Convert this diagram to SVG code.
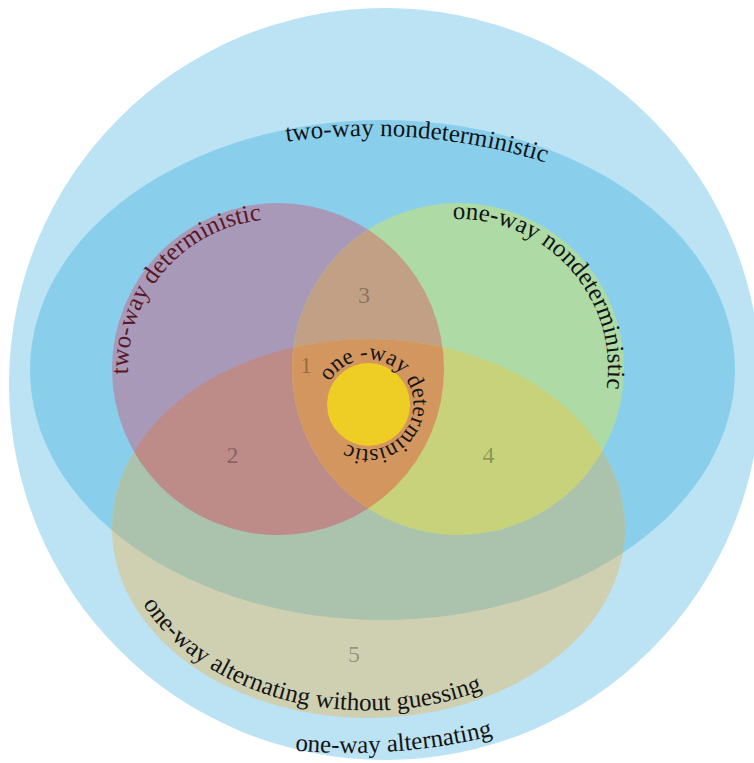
<svg xmlns="http://www.w3.org/2000/svg" xmlns:xlink="http://www.w3.org/1999/xlink" width="754" height="763" viewBox="0 0 754 763">
  <style>
    .lbl { font-family: "Liberation Serif", "DejaVu Serif", serif; font-size: 25px; fill: #141414; }
    .num { font-family: "Liberation Serif", "DejaVu Serif", serif; font-size: 24px; fill: #000; fill-opacity: 0.3; text-anchor: middle; }
  </style>
  <defs>
    <clipPath id="cB"><ellipse cx="382.5" cy="370" rx="352.5" ry="250"/></clipPath>
    <clipPath id="cP"><circle cx="278" cy="369" r="166"/></clipPath>
    <clipPath id="cG"><circle cx="458" cy="369" r="166"/></clipPath>
    <path id="pTwoND" d="M 250,148 A 380 236 0 0 1 600,184"/>
    <path id="pTwoD" d="M 128.1,374.2 A 150 150 0 0 1 291.1,219.6"/>
    <path id="pOneND" d="M 452.8,219.1 A 150 150 0 0 1 602.9,407.8"/>
    <path id="pOneD" d="M 329.5,382 A 45 45 0 1 1 339.6,439"/>
    <path id="pAltWG" d="M 143,604.2 A 248 182 0 0 0 558.5,645.5"/>
    <path id="pAlt" d="M 280,748.9 A 600 600 0 0 0 520,728.4"/>
  </defs>

  <g id="one-way-alternating">
    <circle cx="385" cy="384" r="376" fill="#bbe3f4"/>
  </g>
  <g id="two-way-nondeterministic">
    <ellipse cx="382.5" cy="370" rx="352.5" ry="250" fill="#89cfec"/>
  </g>
  <g id="one-way-alternating-without-guessing">
    <ellipse cx="368.5" cy="528.5" rx="256.5" ry="189.5" fill="#cfd0b1"/>
    <ellipse cx="368.5" cy="528.5" rx="256.5" ry="189.5" fill="#abc2ad" clip-path="url(#cB)"/>
  </g>
  <g id="two-way-deterministic">
    <circle cx="278" cy="369" r="166" fill="#a999b8"/>
  </g>
  <g id="one-way-nondeterministic">
    <circle cx="458" cy="369" r="166" fill="#aedba5"/>
  </g>
  <g id="overlaps">
    <circle cx="458" cy="369" r="166" fill="#c1a086" clip-path="url(#cP)"/>
    <ellipse cx="368.5" cy="528.5" rx="256.5" ry="189.5" fill="#bd8b88" clip-path="url(#cP)"/>
    <ellipse cx="368.5" cy="528.5" rx="256.5" ry="189.5" fill="#c7d27b" clip-path="url(#cG)"/>
    <g clip-path="url(#cP)">
      <ellipse cx="368.5" cy="528.5" rx="256.5" ry="189.5" fill="#d3965f" clip-path="url(#cG)"/>
    </g>
  </g>
  <g id="one-way-deterministic">
    <circle cx="368.5" cy="404.5" r="41.5" fill="#eecd24"/>
  </g>

  <g id="labels">
    <text class="lbl"><textPath xlink:href="#pTwoND" href="#pTwoND" startOffset="37">two-way nondeterministic</textPath></text>
    <text class="lbl" style="fill:#5a1626"><textPath xlink:href="#pTwoD" href="#pTwoD">two-way deterministic</textPath></text>
    <text class="lbl"><textPath xlink:href="#pOneND" href="#pOneND">one-way nondeterministic</textPath></text>
    <text class="lbl" style="font-size:23px"><textPath xlink:href="#pOneD" href="#pOneD">one -way deterministic</textPath></text>
    <text class="lbl"><textPath xlink:href="#pAltWG" href="#pAltWG">one-way alternating without guessing</textPath></text>
    <text class="lbl"><textPath xlink:href="#pAlt" href="#pAlt" startOffset="15">one-way alternating</textPath></text>
  </g>
  <g id="numbers">
    <text class="num" x="306" y="373">1</text>
    <text class="num" x="232.5" y="463">2</text>
    <text class="num" x="364" y="303">3</text>
    <text class="num" x="488.5" y="463">4</text>
    <text class="num" x="354" y="662">5</text>
  </g>
</svg>
